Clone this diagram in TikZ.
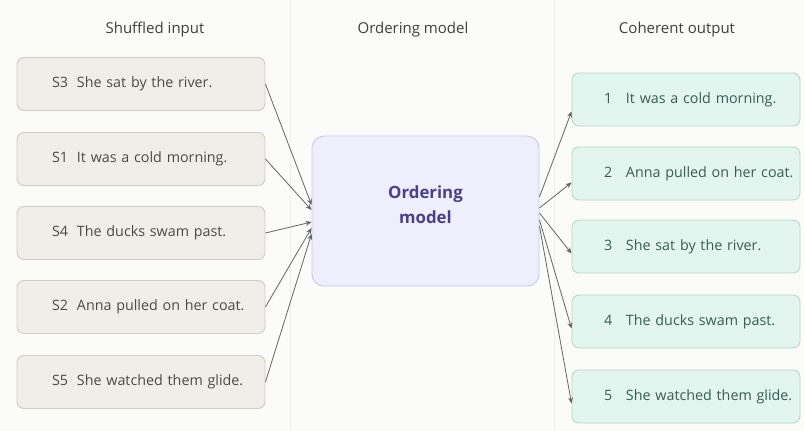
\documentclass[tikz,border=0pt]{standalone}
\usepackage{fontspec}
\setmainfont{Open Sans}
\usetikzlibrary{arrows.meta}
\definecolor{bg}{HTML}{FBFBFA}
\definecolor{divider}{HTML}{EFEFEE}
\definecolor{infill}{HTML}{EFEEE9}
\definecolor{indraw}{HTML}{CDCDC6}
\definecolor{intext}{HTML}{4A4A47}
\definecolor{outfill}{HTML}{E2F5EE}
\definecolor{outdraw}{HTML}{B7D8CC}
\definecolor{outtext}{HTML}{365E53}
\definecolor{midfill}{HTML}{EEEEFC}
\definecolor{middraw}{HTML}{C9C8EE}
\definecolor{midtext}{HTML}{4A3F8F}
\definecolor{headtext}{HTML}{3F3F3D}
\definecolor{arrowc}{HTML}{646462}
\tikzset{
  header/.style={font=\fontsize{15}{17}\selectfont, text=headtext, inner sep=0pt},
  inbox/.style={draw=indraw, fill=infill, line width=0.9pt, rounded corners=7pt,
    minimum width=248pt, minimum height=53pt, inner xsep=0pt, text width=248pt,
    align=left, font=\fontsize{14.3}{17}\selectfont, text=intext},
  outbox/.style={draw=outdraw, fill=outfill, line width=0.9pt, rounded corners=7pt,
    minimum width=228pt, minimum height=53pt, inner xsep=0pt, text width=228pt,
    align=left, font=\fontsize{14.3}{17}\selectfont, text=outtext},
  midbox/.style={draw=middraw, fill=midfill, line width=0.9pt, rounded corners=12pt,
    minimum width=227pt, minimum height=150pt},
  midlabel/.style={align=center, inner sep=0pt,
    font=\bfseries\fontsize{16.8}{25}\selectfont, text=midtext},
  conn/.style={draw=arrowc, line width=0.8pt, -{Stealth[length=6pt,width=5pt]}}
}
\newcommand{\inl}[2]{\hspace*{35pt}\makebox[25pt][l]{#1}#2}
\newcommand{\outl}[2]{\hspace*{32pt}\makebox[22pt][l]{#1}#2}
\begin{document}
\begin{tikzpicture}[x=1pt,y=-1pt]
\fill[bg] (0,0) rectangle (804,431);
\useasboundingbox (0,0) rectangle (804,431);
\draw[divider, line width=0.8pt] (290,0) -- (290,431);
\draw[divider, line width=0.8pt] (554,0) -- (554,431);

\node[header] (h1) at (155,30) {Shuffled input};
\node[header] (h2) at (413,30) {Ordering model};
\node[header] (h3) at (677,30) {Coherent output};

\node[inbox] (s3) at (141,84) {\inl{S3}{She sat by the river.}};
\node[inbox] (s1) at (141,159) {\inl{S1}{It was a cold morning.}};
\node[inbox] (s4) at (141,233) {\inl{S4}{The ducks swam past.}};
\node[inbox] (s2) at (141,307) {\inl{S2}{Anna pulled on her coat.}};
\node[inbox] (s5) at (141,382) {\inl{S5}{She watched them glide.}};

\node[midbox] (m) at (425.5,211) {};
\node[midlabel] (ml) at (425.5,205) {Ordering\\model};

\node[outbox] (o1) at (686,99.5) {\outl{1}{It was a cold morning.}};
\node[outbox] (o2) at (686,173.5) {\outl{2}{Anna pulled on her coat.}};
\node[outbox] (o3) at (686,246.5) {\outl{3}{She sat by the river.}};
\node[outbox] (o4) at (686,321.5) {\outl{4}{The ducks swam past.}};
\node[outbox] (o5) at (686,396.5) {\outl{5}{She watched them glide.}};

\draw[conn] (s3.east) -- ([yshift=6pt]m.west);
\draw[conn] (s1.east) -- ([yshift=1pt]m.west);
\draw[conn] (s4.east) -- ([yshift=-11pt]m.west);
\draw[conn] (s2.east) -- ([yshift=-17pt]m.west);
\draw[conn] (s5.east) -- ([yshift=-23pt]m.west);

\draw[conn] ([yshift=14pt]m.east) -- ([yshift=-12pt]o1.west);
\draw[conn] ([yshift=3pt]m.east) -- ([yshift=-9pt]o2.west);
\draw[conn] ([yshift=-2pt]m.east) -- ([yshift=-7pt]o3.west);
\draw[conn] ([yshift=-9pt]m.east) -- ([yshift=-7pt]o4.west);
\draw[conn] ([yshift=-15pt]m.east) -- ([yshift=-7pt]o5.west);
\end{tikzpicture}
\end{document}
